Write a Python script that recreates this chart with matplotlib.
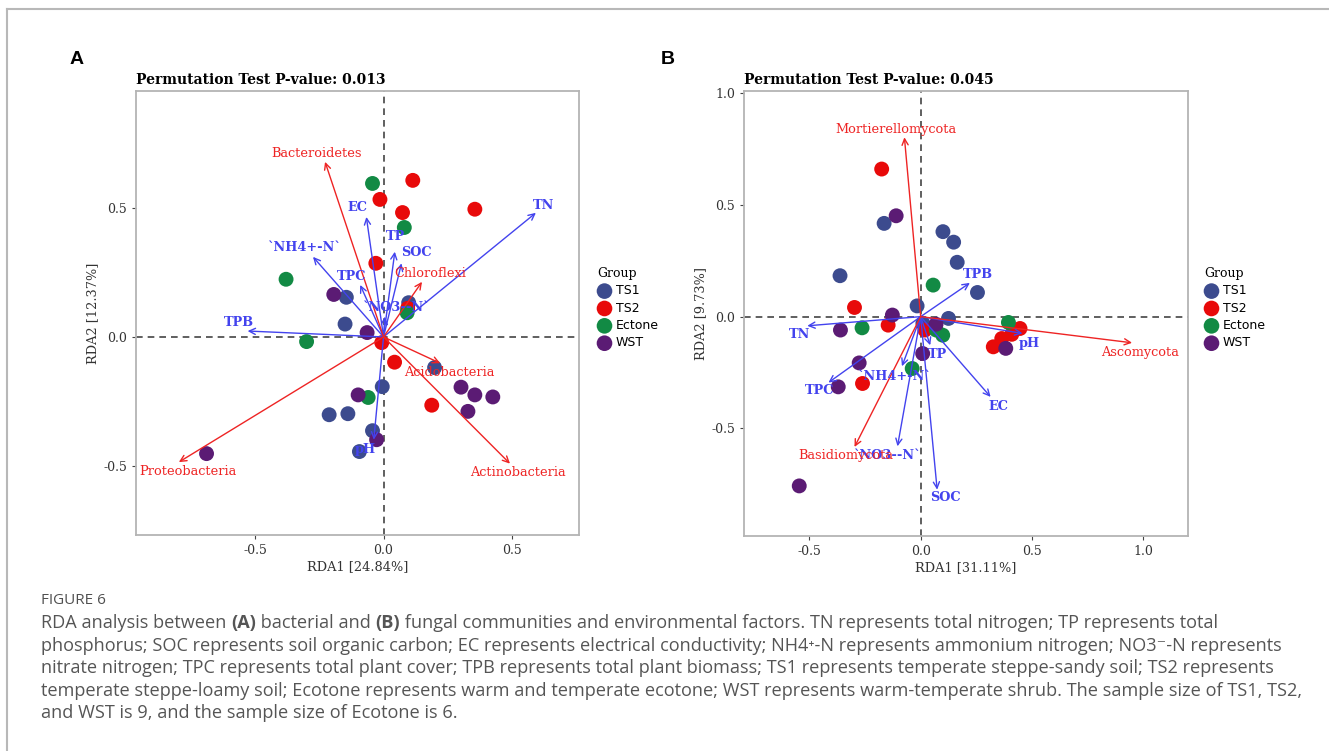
import matplotlib
matplotlib.use("Agg")
import matplotlib.pyplot as plt
from matplotlib.lines import Line2D

# ---------------- data ----------------
groups = ["TS1", "TS2", "Ectone", "WST"]

# panel A: bacterial community, sample scores
a_ts1_x = [-0.145, 0.098, -0.150, 0.199, -0.005, -0.212, -0.139, -0.043, -0.094]
a_ts1_y = [0.154, 0.133, 0.050, -0.119, -0.193, -0.302, -0.298, -0.364, -0.445]
a_ts2_x = [0.114, -0.014, 0.074, 0.356, -0.030, 0.094, -0.007, 0.043, 0.188]
a_ts2_y = [0.608, 0.534, 0.483, 0.496, 0.286, 0.111, -0.022, -0.098, -0.265]
a_ect_x = [-0.043, 0.081, -0.380, 0.092, -0.300, -0.060]
a_ect_y = [0.596, 0.425, 0.224, 0.094, -0.018, -0.235]
a_wst_x = [-0.194, -0.064, 0.302, 0.356, 0.426, -0.099, 0.329, -0.027, -0.690]
a_wst_y = [0.165, 0.017, -0.195, -0.225, -0.233, -0.225, -0.289, -0.399, -0.453]

# panel A: environmental factor arrows
a_env = ["TN", "EC", "TP", "SOC", "`NH4+-N`", "TPC", "`NO3--N`", "TPB", "pH"]
a_env_x = [0.594, -0.067, 0.044, 0.070, -0.275, -0.091, 0.005, -0.530, -0.038]
a_env_y = [0.482, 0.466, 0.331, 0.286, 0.311, 0.202, 0.079, 0.023, -0.399]
a_env_lx = [0.623, -0.100, 0.048, 0.128, -0.308, -0.123, 0.050, -0.563, -0.070]
a_env_ly = [0.512, 0.503, 0.389, 0.326, 0.346, 0.234, 0.113, 0.055, -0.438]

# panel A: phylum arrows
a_sp = ["Bacteroidetes", "Chloroflexi", "Acidobacteria", "Actinobacteria", "Proteobacteria"]
a_sp_x = [-0.228, 0.150, 0.221, 0.493, -0.798]
a_sp_y = [0.680, 0.214, -0.102, -0.492, -0.486]
a_sp_lx = [-0.262, 0.181, 0.255, 0.523, -0.762]
a_sp_ly = [0.712, 0.247, -0.138, -0.528, -0.522]

# panel B: fungal community, sample scores
b_ts1_x = [-0.164, 0.100, 0.148, 0.164, -0.362, 0.255, -0.016, 0.125, 0.010]
b_ts1_y = [0.417, 0.380, 0.333, 0.243, 0.183, 0.108, 0.048, -0.008, -0.030]
b_ts2_x = [-0.175, -0.297, -0.146, 0.019, 0.446, 0.409, 0.364, 0.326, -0.261]
b_ts2_y = [0.660, 0.041, -0.038, -0.060, -0.053, -0.079, -0.098, -0.135, -0.299]
b_ect_x = [0.056, 0.394, -0.263, 0.099, -0.038, 0.070]
b_ect_y = [0.141, -0.026, -0.050, -0.083, -0.232, -0.060]
b_wst_x = [-0.110, -0.127, -0.360, 0.069, 0.009, -0.276, -0.370, -0.545, 0.382]
b_wst_y = [0.451, 0.007, -0.060, -0.034, -0.165, -0.207, -0.314, -0.757, -0.142]

b_env = ["TPB", "TN", "pH", "TP", "EC", "`NH4+-N`", "TPC", "`NO3--N`", "SOC"]
b_env_x = [0.221, -0.509, 0.457, 0.043, 0.314, -0.084, -0.414, -0.104, 0.074]
b_env_y = [0.151, -0.041, -0.075, -0.128, -0.359, -0.222, -0.295, -0.580, -0.774]
b_env_lx = [0.255, -0.545, 0.489, 0.074, 0.350, -0.119, -0.452, -0.150, 0.110]
b_env_ly = [0.190, -0.080, -0.120, -0.168, -0.401, -0.266, -0.332, -0.620, -0.809]

b_sp = ["Mortierellomycota", "Ascomycota", "Basidiomycota"]
b_sp_x = [-0.073, 0.949, -0.297]
b_sp_y = [0.802, -0.117, -0.583]
b_sp_lx = [-0.111, 0.985, -0.336]
b_sp_ly = [0.839, -0.160, -0.623]

colors = ["#3c4b8e", "#e80a0a", "#128a44", "#5b1b74"]
env_col = "#4343ee"
sp_col = "#ee2424"

caption_lines = [
    [("RDA analysis between ", "normal"), ("(A)", "bold"), (" bacterial and ", "normal"),
     ("(B)", "bold"), (" fungal communities and environmental factors. TN represents total nitrogen; TP represents total", "normal")],
    [("phosphorus; SOC represents soil organic carbon; EC represents electrical conductivity; NH4\u207a-N represents ammonium nitrogen; NO3\u207b-N represents", "normal")],
    [("nitrate nitrogen; TPC represents total plant cover; TPB represents total plant biomass; TS1 represents temperate steppe-sandy soil; TS2 represents", "normal")],
    [("temperate steppe-loamy soil; Ecotone represents warm and temperate ecotone; WST represents warm-temperate shrub. The sample size of TS1, TS2,", "normal")],
    [("and WST is 9, and the sample size of Ecotone is 6.", "normal")],
]

W, H = 1329, 751
fig = plt.figure(figsize=(W / 100, H / 100), dpi=100)
fig.patch.set_facecolor("white")


def draw_panel(ax, pts, env, sp, xlim, ylim, ticks_x, ticks_y, title, xlabel, ylabel, leg_x):
    ax.axhline(0, color="#444444", ls=(0, (4, 3)), lw=1.2, zorder=1)
    ax.axvline(0, color="#444444", ls=(0, (4, 3)), lw=1.2, zorder=1)
    for (gx, gy), g, c in zip(pts, groups, colors):
        ax.scatter(gx, gy, s=115, color=c, edgecolors="none", zorder=2, label=g)
    names, ex, ey, lx, ly = env
    for n, x, y, tx, ty in zip(names, ex, ey, lx, ly):
        ax.annotate("", xy=(x, y), xytext=(0, 0),
                    arrowprops=dict(arrowstyle="->,head_length=0.45,head_width=0.22",
                                    color=env_col, lw=1.0, shrinkA=0, shrinkB=0), zorder=3)
        ax.text(tx, ty, n, color=env_col, fontsize=9.3, fontweight="bold",
                family="DejaVu Serif", ha="center", va="center", zorder=4)
    names, sx, sy, lx, ly = sp
    for n, x, y, tx, ty in zip(names, sx, sy, lx, ly):
        ax.annotate("", xy=(x, y), xytext=(0, 0),
                    arrowprops=dict(arrowstyle="->,head_length=0.45,head_width=0.22",
                                    color=sp_col, lw=1.0, shrinkA=0, shrinkB=0), zorder=3)
        ax.text(tx, ty, n, color=sp_col, fontsize=9.3, family="DejaVu Serif",
                ha="center", va="center", zorder=4)
    ax.set_xlim(*xlim)
    ax.set_ylim(*ylim)
    ax.set_xticks(ticks_x)
    ax.set_yticks(ticks_y)
    ax.set_xticklabels([f"{t:.1f}" for t in ticks_x])
    ax.set_yticklabels([f"{t:.1f}" for t in ticks_y])
    ax.tick_params(labelsize=9, labelcolor="#333333", color="#444444", length=3, width=0.8)
    for lab in ax.get_xticklabels() + ax.get_yticklabels():
        lab.set_family("DejaVu Serif")
    for s in ax.spines.values():
        s.set_color("#b4b4b4")
        s.set_linewidth(1.3)
    ax.set_title(title, loc="left", fontsize=10, fontweight="bold", family="DejaVu Serif", pad=5)
    ax.set_xlabel(xlabel, fontsize=9.3, family="DejaVu Serif", color="#333333", labelpad=2)
    ax.set_ylabel(ylabel, fontsize=9.3, family="DejaVu Serif", color="#333333", labelpad=3)
    leg = ax.legend(loc="upper left", bbox_to_anchor=(leg_x, 1 - 262 / H), bbox_transform=fig.transFigure,
                    frameon=False, title="Group", prop={"family": "DejaVu Sans", "size": 9},
                    title_fontproperties={"family": "DejaVu Serif", "size": 9},
                    handletextpad=0.3, labelspacing=0.35, handlelength=1.2, borderaxespad=0,
                    markerscale=1.05)
    leg._legend_box.align = "left"


axA = fig.add_axes([136 / W, 1 - 535 / H, 443 / W, 444 / H])
draw_panel(axA, [(a_ts1_x, a_ts1_y), (a_ts2_x, a_ts2_y), (a_ect_x, a_ect_y), (a_wst_x, a_wst_y)],
           (a_env, a_env_x, a_env_y, a_env_lx, a_env_ly), (a_sp, a_sp_x, a_sp_y, a_sp_lx, a_sp_ly),
           (-0.965, 0.762), (-0.769, 0.955), [-0.5, 0.0, 0.5], [-0.5, 0.0, 0.5],
           "Permutation Test P-value: 0.013", "RDA1 [24.84%]", "RDA2 [12.37%]", 592 / W)

axB = fig.add_axes([744 / W, 1 - 536 / H, 444 / W, 445 / H])
draw_panel(axB, [(b_ts1_x, b_ts1_y), (b_ts2_x, b_ts2_y), (b_ect_x, b_ect_y), (b_wst_x, b_wst_y)],
           (b_env, b_env_x, b_env_y, b_env_lx, b_env_ly), (b_sp, b_sp_x, b_sp_y, b_sp_lx, b_sp_ly),
           (-0.793, 1.200), (-0.981, 1.009), [-0.5, 0.0, 0.5, 1.0], [-0.5, 0.0, 0.5, 1.0],
           "Permutation Test P-value: 0.045", "RDA1 [31.11%]", "RDA2 [9.73%]", 1199 / W)

# panel letters
fig.text(77 / W, 1 - 59 / H, "A", fontsize=14, fontweight="bold", family="Liberation Sans",
         ha="center", va="center")
fig.text(668 / W, 1 - 60 / H, "B", fontsize=14, fontweight="bold", family="Liberation Sans",
         ha="center", va="center")

# page frame (top and left edges)
fig.add_artist(Line2D([7 / W, 7 / W], [0, 1 - 9 / H], transform=fig.transFigure, color="#b8b8b8", lw=1.5))
fig.add_artist(Line2D([7 / W, 1], [1 - 9 / H, 1 - 9 / H], transform=fig.transFigure, color="#b8b8b8", lw=1.5))

# caption
cap_font = ["Open Sans", "DejaVu Sans"]
fig.text(41 / W, 1 - 601 / H, "FIGURE 6", fontsize=11, family=cap_font, color="#505050", va="center")
renderer = fig.canvas.get_renderer()


def seg_width(s, weight, size):
    t1 = fig.text(0, 0, s + "x", fontsize=size, family=cap_font, fontweight=weight)
    t2 = fig.text(0, 0, "x", fontsize=size, family=cap_font, fontweight=weight)
    w = t1.get_window_extent(renderer).width - t2.get_window_extent(renderer).width
    t1.remove()
    t2.remove()
    return w


cap_size = 13.05
line_y = [623, 646, 668, 691, 713]
for segs, yy in zip(caption_lines, line_y):
    x = 41.0
    for s, wgt in segs:
        fig.text(x / W, 1 - yy / H, s, fontsize=cap_size, family=cap_font, fontweight=wgt,
                 color="#555555", va="center")
        x += seg_width(s, wgt, cap_size)

fig.savefig("out.png", dpi=100)
